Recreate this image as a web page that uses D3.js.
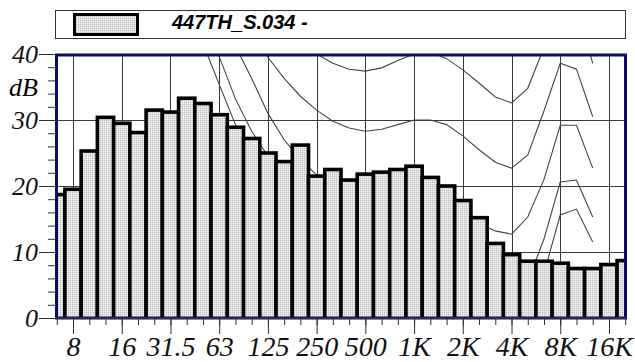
<!DOCTYPE html>
<html>
<head>
<meta charset="utf-8">
<script src="https://cdn.jsdelivr.net/npm/d3@7/dist/d3.min.js"></script>
<style>
  body { margin: 0; background: #fff; }
  .axis text { font-family: 'Liberation Serif', 'Times New Roman', serif; font-style: italic; font-size: 26px; fill: #111; }
  .axis.xlab text { font-size: 28px; }
  .axis line { stroke: #2a2a4a; }
  .axis path { display: none; }
</style>
</head>
<body>
<div id="chart"></div>
<script>
// third-octave bands, 6.3 Hz .. 20 kHz
const bands = ['6.3', '8', '10', '12.5', '16', '20', '25', '31.5', '40', '50', '63', '80', '100', '125',
  '160', '200', '250', '315', '400', '500', '630', '800', '1K', '1.25K', '1.6K', '2K', '2.5K', '3.15K',
  '4K', '5K', '6.3K', '8K', '10K', '12.5K', '16K', '20K'];
const octaveLabels = ['8', '16', '31.5', '63', '125', '250', '500', '1K', '2K', '4K', '8K', '16K'];
const levels = [18.7, 19.5, 25.3, 30.4, 29.5, 28.1, 31.5, 31.2, 33.3, 32.5, 30.8, 28.9, 27.2, 25.0,
  23.7, 26.2, 21.5, 22.5, 20.9, 21.8, 22.1, 22.5, 23.0, 21.3, 20.0, 17.8, 15.2, 11.3,
  9.6, 8.6, 8.6, 8.3, 7.5, 7.5, 8.1, 8.7];
const yTicks = [0, 10, 20, 30, 40];
const legendLabel = '447TH_S.034 -';

// contour curves, per band (null = not drawn)
const contour40 = [null, null, null, null, null, null, null, null, null, null, null, null, 52, 47.5,
  44, 41.8, 40.0, 38.6, 37.7, 37.4, 37.9, 39.0, 40.0, 40.3, 39.3, 37.6, 35.6, 33.5,
  32.6, 34.8, 41, 48, 47, 38.6];
const contour30 = [null, null, null, null, null, null, null, null, null, null, 55, 49, 43.5, 39.5,
  36.3, 33.6, 31.5, 29.8, 28.8, 28.3, 28.6, 29.3, 30, 30, 29.3, 27.6, 25.5, 23.6,
  22.7, 24.7, 31.4, 38.6, 37.7, 30.5];
const contour20 = [null, null, null, null, null, null, null, null, null, 55, 47, 41.2, 36.3, 31,
  27, 24, 21.7, 20.5, 19.8, 19.5, 19.6, 19.8, 20, 19.8, 18.8, 16.7, 14.3, 13.2,
  12.7, 15.3, 21, 29.2, 29.2, 22.7];
const contour10 = [null, null, null, null, null, null, null, null, null, 46.5, 39.6, 33.2, 28.3, 24.5,
  21.3, 18.7, 16.5, 14.7, 13.2, 12, 11, 10.4, 10, 9.8, 9, 7.5, 5.6, 4.2,
  3.7, 5.5, 12, 20.6, 20.9, 15.3];
const contour0 = [null, null, null, null, null, null, null, null, 48, 41.6, 35.4, 29.3, 24.5, 20.5,
  17, 14.3, 12.2, 10.6, 9.4, 8.5, 7.9, 7.5, 7.3, 7, 6.2, 4.8, 3, 1.5,
  1, 2.5, 6.8, 15.6, 16.5, 11.5];
const contours = [contour40, contour30, contour20, contour10, contour0];

drawChart(document.getElementById('chart'));

function drawChart(container) {
  const W = 635, H = 362;
  const plot = { left: 55, right: 627, top: 54, bottom: 318 };

  const x = d3.scaleLinear()
    .domain([-0.11, bands.length - 1 + 0.11])
    .range([plot.left, plot.right]);
  const y = d3.scaleLinear()
    .domain([0, 40])
    .range([plot.bottom, plot.top]);

  const svg = d3.select(container).append('svg')
    .attr('width', W)
    .attr('height', H);

  const defs = svg.append('defs');
  const pat = defs.append('pattern')
    .attr('id', 'dots')
    .attr('width', 2).attr('height', 2)
    .attr('patternUnits', 'userSpaceOnUse');
  pat.append('rect').attr('width', 2).attr('height', 2).attr('fill', '#dedede');
  pat.append('rect').attr('width', 1).attr('height', 1).attr('fill', '#c4c4c4');
  pat.append('rect').attr('x', 1).attr('y', 1).attr('width', 1).attr('height', 1).attr('fill', '#f4f4f4');

  defs.append('clipPath').attr('id', 'plotClip')
    .append('rect')
    .attr('x', plot.left).attr('y', plot.top)
    .attr('width', plot.right - plot.left)
    .attr('height', plot.bottom - plot.top);

  // legend
  const legend = svg.append('g');
  legend.append('rect')
    .attr('x', 55.5).attr('y', 10.5)
    .attr('width', 570).attr('height', 28)
    .attr('fill', '#fff')
    .attr('stroke', '#333')
    .attr('stroke-width', 1);
  legend.append('rect')
    .attr('x', 74.5).attr('y', 14.5)
    .attr('width', 63).attr('height', 20)
    .attr('fill', 'url(#dots)')
    .attr('stroke', '#000')
    .attr('stroke-width', 3);
  legend.append('text')
    .attr('x', 172).attr('y', 29)
    .style('font-family', "'Liberation Sans', Arial, sans-serif")
    .style('font-weight', 'bold')
    .style('font-style', 'italic')
    .style('font-size', '20px')
    .text(legendLabel);

  const inner = svg.append('g').attr('clip-path', 'url(#plotClip)');

  // grid
  const octIdx = octaveLabels.map(function (l) { return bands.indexOf(l); });
  inner.selectAll('.vgrid')
    .data(octIdx)
    .enter().append('line')
    .attr('x1', function (d) { return Math.round(x(d)) + 0.5; })
    .attr('x2', function (d) { return Math.round(x(d)) + 0.5; })
    .attr('y1', plot.top).attr('y2', plot.bottom)
    .attr('stroke', '#3a3a3a').attr('stroke-width', 1);
  inner.selectAll('.hgrid')
    .data([10, 20, 30])
    .enter().append('line')
    .attr('x1', plot.left).attr('x2', plot.right)
    .attr('y1', function (d) { return Math.round(y(d)) + 0.5; })
    .attr('y2', function (d) { return Math.round(y(d)) + 0.5; })
    .attr('stroke', '#3a3a3a').attr('stroke-width', 1);

  // contour curves
  const line = d3.line()
    .defined(function (d) { return d != null; })
    .x(function (d, i) { return x(i); })
    .y(function (d) { return y(d); });
  inner.selectAll('.contour')
    .data(contours)
    .enter().append('path')
    .attr('d', line)
    .attr('fill', 'none')
    .attr('stroke', '#444')
    .attr('stroke-width', 1.1);

  // bars
  inner.selectAll('.bar')
    .data(levels)
    .enter().append('rect')
    .attr('x', function (d, i) { return x(i - 0.5); })
    .attr('width', function (d, i) { return x(i + 0.5) - x(i - 0.5); })
    .attr('y', function (d) { return y(d); })
    .attr('height', function (d) { return y(0) - y(d) + 4; })
    .attr('fill', 'url(#dots)')
    .attr('stroke', '#000')
    .attr('stroke-width', 3.6);

  // frame
  svg.append('rect')
    .attr('x', plot.left + 1.5).attr('y', plot.top + 1)
    .attr('width', plot.right - plot.left - 3)
    .attr('height', plot.bottom - plot.top - 1)
    .attr('fill', 'none')
    .attr('stroke', '#0c0c66')
    .attr('stroke-width', 3);
  svg.append('line')
    .attr('x1', plot.left).attr('x2', plot.right)
    .attr('y1', plot.bottom).attr('y2', plot.bottom)
    .attr('stroke', '#2a2a4a').attr('stroke-width', 2);

  // y axis
  svg.append('g').attr('class', 'axis')
    .attr('transform', 'translate(' + plot.left + ',0)')
    .call(d3.axisLeft(y).tickValues(d3.range(0, 41, 2)).tickSize(7).tickFormat(''));
  svg.append('g').attr('class', 'axis')
    .attr('transform', 'translate(' + plot.left + ',0)')
    .call(d3.axisLeft(y).tickValues(yTicks).tickSize(16).tickPadding(1));
  svg.append('text')
    .attr('x', 38).attr('y', y(35))
    .attr('dy', '0.35em')
    .attr('text-anchor', 'end')
    .style('font-family', "'Liberation Serif', 'Times New Roman', serif")
    .style('font-style', 'italic')
    .style('font-size', '26px')
    .text('dB');

  // x axis
  svg.append('g').attr('class', 'axis')
    .attr('transform', 'translate(0,' + plot.bottom + ')')
    .call(d3.axisBottom(x).tickValues(d3.range(bands.length)).tickSize(7).tickFormat(''));
  svg.append('g').attr('class', 'axis xlab')
    .attr('transform', 'translate(0,' + plot.bottom + ')')
    .call(d3.axisBottom(x).tickValues(octIdx).tickSize(16).tickPadding(2)
      .tickFormat(function (d) { return bands[d]; }));
}
</script>
</body>
</html>
